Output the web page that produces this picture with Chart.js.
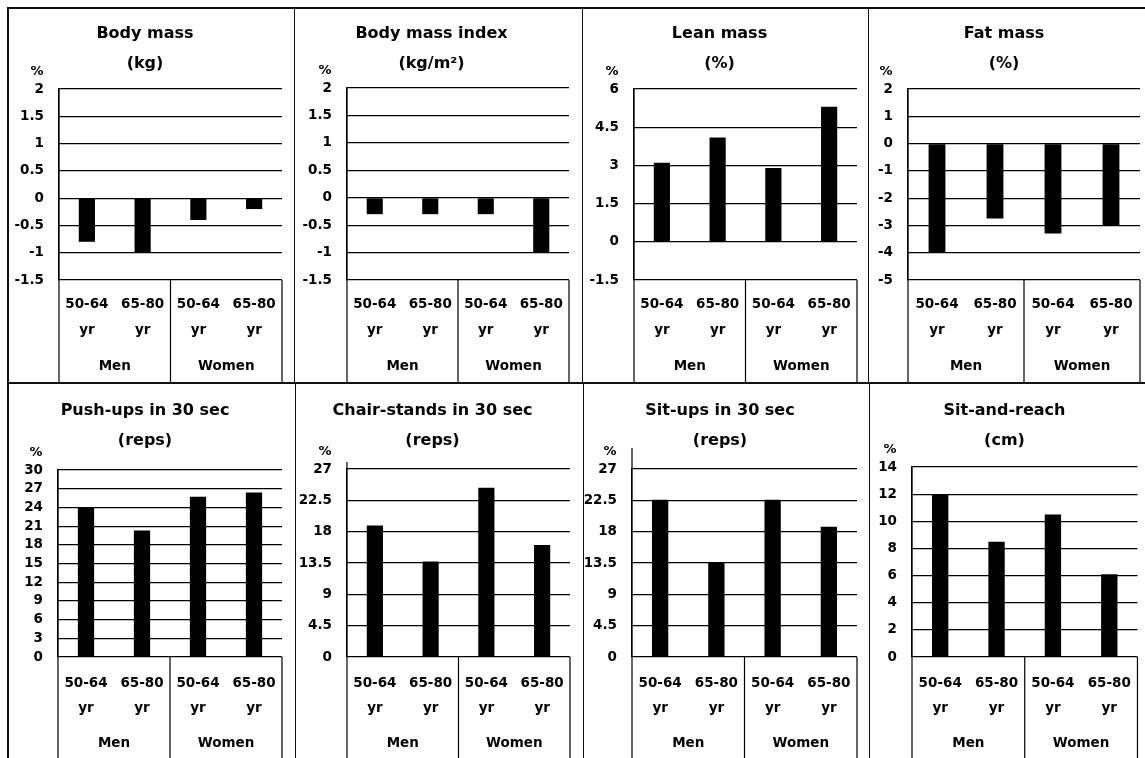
<!DOCTYPE html>
<html>
<head>
<meta charset="utf-8">
<script src="https://cdn.jsdelivr.net/npm/chart.js@4"></script>
<style>
  html, body { margin: 0; padding: 0; background: #fff; }
  #page { position: relative; width: 1145px; height: 758px; overflow: hidden; background: #fff; }
  canvas { position: absolute; }
  .ln { position: absolute; background: #111; }
</style>
</head>
<body>
<div id="page"></div>
<script>
// ---------------- DATA ----------------
const ageGroups = [['50-64', 'yr'], ['65-80', 'yr'], ['50-64', 'yr'], ['65-80', 'yr']];
const sexes = ['Men', 'Women'];

const titles = [
  ['Body mass', '(kg)'],
  ['Body mass index', '(kg/m²)'],
  ['Lean mass', '(%)'],
  ['Fat mass', '(%)'],
  ['Push-ups in 30 sec', '(reps)'],
  ['Chair-stands in 30 sec', '(reps)'],
  ['Sit-ups in 30 sec', '(reps)'],
  ['Sit-and-reach', '(cm)']
];

const bodyMass = [-0.8, -1.0, -0.4, -0.2];
const bodyMassIndex = [-0.3, -0.3, -0.3, -1.0];
const leanMass = [3.1, 4.1, 2.9, 5.3];
const fatMass = [-4.0, -2.75, -3.3, -3.0];
const pushUps = [24.0, 20.3, 25.7, 26.4];
const chairStands = [18.9, 13.7, 24.3, 16.1];
const sitUps = [22.6, 13.5, 22.6, 18.7];
const sitAndReach = [12.0, 8.5, 10.5, 6.1];

const ticksBody = [-1.5, -1, -0.5, 0, 0.5, 1, 1.5, 2];
const ticksBmi = [-1.5, -1, -0.5, 0, 0.5, 1, 1.5, 2];
const ticksLean = [-1.5, 0, 1.5, 3, 4.5, 6];
const ticksFat = [-5, -4, -3, -2, -1, 0, 1, 2];
const ticksPush = [0, 3, 6, 9, 12, 15, 18, 21, 24, 27, 30];
const ticksChair = [0, 4.5, 9, 13.5, 18, 22.5, 27];
const ticksSit = [0, 4.5, 9, 13.5, 18, 22.5, 27];
const ticksReach = [0, 2, 4, 6, 8, 10, 12, 14];

const seriesList = [bodyMass, bodyMassIndex, leanMass, fatMass, pushUps, chairStands, sitUps, sitAndReach];
const tickList = [ticksBody, ticksBmi, ticksLean, ticksFat, ticksPush, ticksChair, ticksSit, ticksReach];

// ---------------- LAYOUT (styling only) ----------------
const layout = [
  {x: 8,   y: 8,   w: 286, h: 374, L: 51, R: 274, T: 81, B: 272, tt: 11, ext: 0},
  {x: 294, y: 8,   w: 288, h: 374, L: 53, R: 275, T: 80, B: 272, tt: 11, ext: 0},
  {x: 582, y: 8,   w: 286, h: 374, L: 52, R: 275, T: 81, B: 272, tt: 11, ext: 0},
  {x: 868, y: 8,   w: 277, h: 374, L: 40, R: 272, T: 81, B: 272, tt: 11, ext: 0},
  {x: 8,   y: 383, w: 287, h: 375, L: 50, R: 274, T: 87, B: 274, tt: 13, ext: 0},
  {x: 295, y: 383, w: 288, h: 375, L: 52, R: 275, T: 86, B: 274, tt: 13, ext: 7},
  {x: 583, y: 383, w: 286, h: 375, L: 49, R: 274, T: 86, B: 274, tt: 13, ext: 21},
  {x: 869, y: 383, w: 276, h: 375, L: 43, R: 271, T: 84, B: 274, tt: 13, ext: 0}
];

const FONT = '"DejaVu Sans", "Liberation Sans", Arial, sans-serif';
const page = document.getElementById('page');

function line(x, y, w, h) {
  const d = document.createElement('div');
  d.className = 'ln';
  d.style.left = x + 'px'; d.style.top = y + 'px';
  d.style.width = w + 'px'; d.style.height = h + 'px';
  page.appendChild(d);
}
line(7, 7, 1138, 2);
line(7, 7, 2, 751);
line(7, 382, 1138, 1.5);
line(293.5, 7, 1.5, 376); line(581.5, 7, 1.5, 376); line(867.5, 7, 1.5, 376);
line(294.5, 382, 1.5, 376); line(582.5, 382, 1.5, 376); line(868.5, 382, 1.5, 376);

const decor = {
  id: 'decor',
  afterDraw(chart, args, opts) {
    const ctx = chart.ctx, a = chart.chartArea, x = chart.scales.x;
    const mid = (x.getPixelForValue(1) + x.getPixelForValue(2)) / 2;
    ctx.save();
    ctx.strokeStyle = '#000';
    ctx.lineWidth = 1.2;
    ctx.beginPath();
    ctx.moveTo(a.left, a.top - opts.ext); ctx.lineTo(a.left, chart.height);
    ctx.moveTo(mid, a.bottom); ctx.lineTo(mid, chart.height);
    ctx.moveTo(a.right, a.bottom); ctx.lineTo(a.right, chart.height);
    ctx.stroke();
    ctx.fillStyle = '#000';
    ctx.font = 'bold 13px ' + FONT;
    ctx.textAlign = 'center';
    ctx.textBaseline = 'middle';
    ctx.fillText('%', a.left - 22, a.top - 17);
    ctx.restore();
  }
};

seriesList.forEach((values, i) => {
  const lay = layout[i];
  const ticks = tickList[i];
  const cv = document.createElement('canvas');
  cv.width = lay.w; cv.height = lay.h;
  cv.style.left = lay.x + 'px'; cv.style.top = lay.y + 'px';
  cv.style.width = lay.w + 'px'; cv.style.height = lay.h + 'px';
  page.appendChild(cv);

  const topRow = i < 4;
  const bottomSpace = lay.h - lay.B;
  const xH = 62;
  const x2H = bottomSpace - xH;

  new Chart(cv, {
    type: 'bar',
    data: {
      labels: ageGroups,
      datasets: [{
        data: values,
        backgroundColor: '#000',
        borderWidth: 0,
        barPercentage: 0.29,
        categoryPercentage: 1.0
      }]
    },
    options: {
      responsive: false,
      animation: false,
      devicePixelRatio: 1,
      layout: { padding: { left: 0, right: lay.w - lay.R, top: 0, bottom: 0 } },
      plugins: {
        legend: { display: false },
        tooltip: { enabled: false },
        title: {
          display: true,
          text: titles[i],
          color: '#000',
          font: { family: FONT, size: 16, weight: 'bold', lineHeight: '30px' },
          padding: { top: lay.tt, bottom: lay.T - lay.tt - 60 }
        },
        decor: { ext: lay.ext }
      },
      scales: {
        x: {
          type: 'category',
          position: 'bottom',
          weight: 0,
          grid: { display: false, drawTicks: false },
          border: { display: false },
          ticks: {
            color: '#000',
            font: { family: FONT, size: 13.5, weight: 'bold', lineHeight: topRow ? '26px' : '25px' },
            padding: topRow ? 11 : 13.5,
            maxRotation: 0, minRotation: 0, autoSkip: false
          },
          afterFit(s) { s.height = xH; }
        },
        x2: {
          type: 'category',
          position: 'bottom',
          weight: 1,
          labels: sexes,
          offset: true,
          grid: { display: false, drawTicks: false },
          border: { display: false },
          ticks: {
            color: '#000',
            font: { family: FONT, size: 13.5, weight: 'bold', lineHeight: '20px' },
            padding: 14,
            maxRotation: 0, minRotation: 0, autoSkip: false
          },
          afterFit(s) { s.height = x2H; }
        },
        y: {
          type: 'linear',
          min: ticks[0],
          max: ticks[ticks.length - 1],
          afterBuildTicks(s) { s.ticks = ticks.map(v => ({ value: v })); },
          grid: { color: '#000', lineWidth: 1.2, drawTicks: false },
          border: { display: true, color: '#000', width: 1.2 },
          ticks: {
            color: '#000',
            font: { family: FONT, size: 13.5, weight: 'bold', lineHeight: 1.0 },
            padding: 15,
            autoSkip: false,
            callback: v => String(v)
          },
          afterFit(s) { s.width = lay.L; }
        }
      }
    },
    plugins: [decor]
  });
});
</script>
</body>
</html>
